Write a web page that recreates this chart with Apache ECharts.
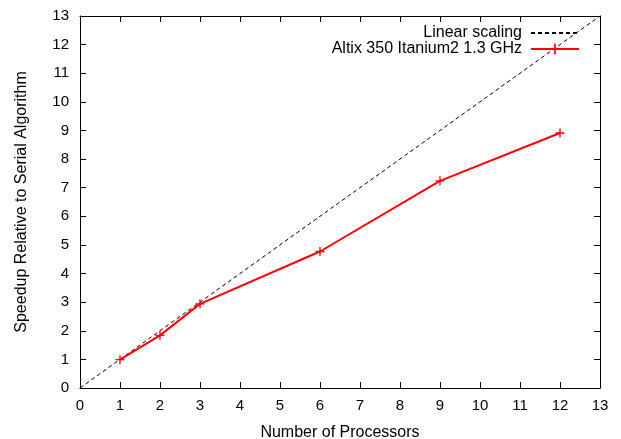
<!DOCTYPE html>
<html><head><meta charset="utf-8">
<script src="https://cdn.jsdelivr.net/npm/echarts@6/dist/echarts.min.js"></script>
<style>html,body{margin:0;padding:0;background:#fff}#c{width:621px;height:439px}</style>
</head><body><div id="c"></div>
<script>
const processors = [1, 2, 3, 6, 9, 12];
const speedup = [0.99, 1.84, 2.94, 4.77, 7.24, 8.91];
const linearX = [0, 13];
const linearY = [0, 13];
const seriesNames = ['Linear scaling', 'Altix 350 Itanium2 1.3 GHz'];
const xTitle = 'Number of Processors';
const yTitle = 'Speedup Relative to Serial Algorithm';

const font = 'Liberation Sans';
const plus = 'path://M4,0h1.4v4h4v1.4h-4v4h-1.4v-4h-4v-1.4h4z';
const chart = echarts.init(document.getElementById('c'));
const axisCommon = {
  type: 'value', min: 0, max: 13, interval: 1,
  axisLine: { show: true, onZero: false, lineStyle: { color: '#000', width: 1 } },
  axisTick: { show: true, inside: true, length: 6, lineStyle: { color: '#000' } },
  splitLine: { show: false },
  axisLabel: { color: '#000', fontFamily: font, fontSize: 15 }
};
chart.setOption({
  animation: false,
  grid: { left: 80, right: 21, top: 16, bottom: 51, containLabel: false, outerBoundsMode: 'none' },
  legend: {
    orient: 'vertical', right: 36, top: 20, align: 'right',
    itemWidth: 48, itemHeight: 14, itemGap: 0,
    formatter: '{t|{name}}',
    textStyle: { fontFamily: font, fontSize: 16, color: '#000',
      rich: { t: { fontFamily: font, fontSize: 16, color: '#000', padding: [0, 4, 0, 0] } } },
    data: [
      { name: seriesNames[0], itemStyle: { opacity: 0 } },
      { name: seriesNames[1] }
    ]
  },
  xAxis: [
    Object.assign({}, axisCommon, {
      position: 'bottom', name: xTitle, nameLocation: 'middle', nameGap: 37,
      nameTextStyle: { fontFamily: font, fontSize: 16, color: '#000' },
      axisLabel: Object.assign({}, axisCommon.axisLabel, { margin: 10 })
    }),
    Object.assign({}, axisCommon, { position: 'top', axisLabel: { show: false } })
  ],
  yAxis: [
    Object.assign({}, axisCommon, {
      position: 'left', name: yTitle, nameLocation: 'middle', nameGap: 50,
      nameTextStyle: { fontFamily: font, fontSize: 16, color: '#000' },
      axisLabel: Object.assign({}, axisCommon.axisLabel, { margin: 11 })
    }),
    Object.assign({}, axisCommon, { position: 'right', axisLabel: { show: false } })
  ],
  series: [
    {
      name: seriesNames[0], type: 'line', xAxisIndex: 0, yAxisIndex: 0,
      data: linearX.map((x, i) => [x, linearY[i]]),
      showSymbol: false, symbol: 'circle', symbolSize: 0,
      lineStyle: { color: '#000', width: 1, type: [4, 3] },
      itemStyle: { color: '#000' }, z: 3
    },
    {
      name: seriesNames[1], type: 'line', xAxisIndex: 0, yAxisIndex: 0,
      data: processors.map((x, i) => [x, speedup[i]]),
      symbol: plus, symbolSize: 9,
      lineStyle: { color: '#ff0000', width: 2 },
      itemStyle: { color: '#ff0000' }, z: 4
    }
  ]
});
</script></body></html>
